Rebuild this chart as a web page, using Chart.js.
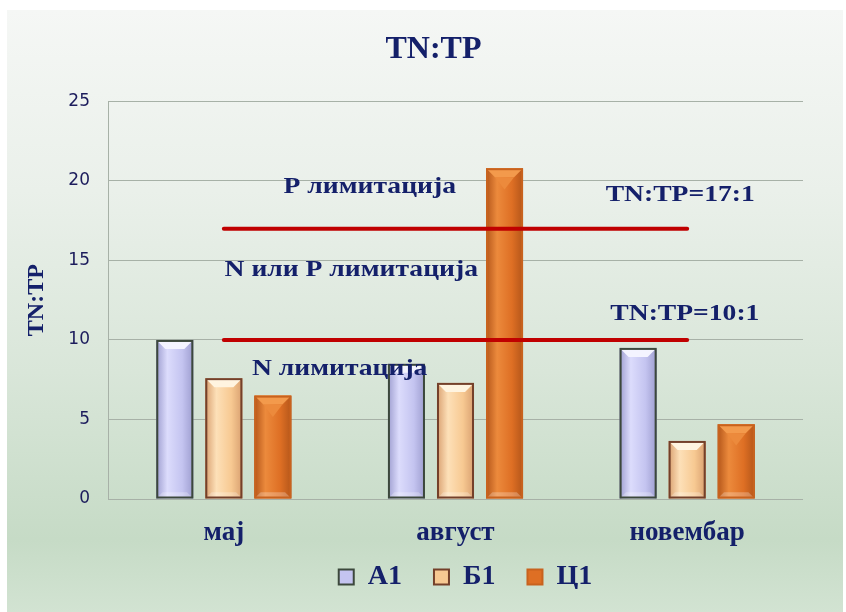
<!DOCTYPE html>
<html>
<head>
<meta charset="utf-8">
<script src="https://cdn.jsdelivr.net/npm/chart.js@4.4.1/dist/chart.umd.min.js"></script>
<style>
  html, body { margin: 0; padding: 0; background: #ffffff; }
  #wrap { position: relative; width: 846px; height: 612px; overflow: hidden; }
  #card {
    position: absolute; left: 7px; top: 10px; right: 3px; bottom: 0;
    background: linear-gradient(to bottom, #f5f7f5 0%, #eaf0ea 30%, #d9e6d9 60%, #c6dbc6 88%, #d2e3d2 100%);
  }
  #chart { position: absolute; left: 0; top: 0; }
</style>
</head>
<body>
<div id="wrap">
  <div id="card"></div>
  <canvas id="chart" width="846" height="612"></canvas>
</div>
<script>
// categories and series
const months = ['мај', 'август', 'новембар'];
const seriesNames = ['А1', 'Б1', 'Ц1'];
const a1Values = [10.0, 8.5, 9.5];
const b1Values = [7.6, 7.3, 3.65];
const c1Values = [6.5, 20.8, 4.7];
// TN:TP threshold lines
const limit17 = [17, 17, 17];
const limit10 = [10, 10, 10];
const yTicks = [0, 5, 10, 15, 20, 25];

// text notes on the plot (category index, value)
const noteTexts = ['P лимитација', 'TN:TP=17:1', 'N или P лимитација', 'TN:TP=10:1', 'N лимитација'];
const noteCats = [0.63, 1.97, 0.55, 1.99, 0.5];
const noteVals = [19.6, 19.1, 14.4, 11.6, 8.2];

const navy = '#14206a';
const serif = '"Liberation Serif", "Times New Roman", serif';

// per-series look: base, light, dark, top bevel, border
const looks = [
  { base: '#c4c4f0', light: '#dcdcfc', dark: '#9e9ed0', top: '#f4f4ff', border: '#3c483c' },
  { base: '#f7c992', light: '#fde0b8', dark: '#d9a070', top: '#fff4e0', border: '#74402a' },
  { base: '#de6f24', light: '#ec8a3c', dark: '#b4561a', top: '#f39a4c', border: '#c8621e' }
];

// gives the plain bars a shaded, bevelled face
const bevelBars = {
  id: 'bevelBars',
  afterDatasetDraw(chart, args) {
    const meta = args.meta;
    if (meta.type !== 'bar') return;
    const look = looks[args.index];
    const ctx = chart.ctx;
    ctx.save();
    meta.data.forEach(bar => {
      const w = bar.width;
      const l = bar.x - w / 2, r = bar.x + w / 2;
      const t = Math.min(bar.y, bar.base), b = Math.max(bar.y, bar.base);
      const g = ctx.createLinearGradient(l, 0, r, 0);
      g.addColorStop(0, look.dark);
      g.addColorStop(0.3, look.light);
      g.addColorStop(0.7, look.base);
      g.addColorStop(1, look.dark);
      ctx.fillStyle = g;
      ctx.fillRect(l, t, w, b - t);
      const bv = Math.min(9, (b - t) / 3);
      // top bevel
      ctx.fillStyle = look.top;
      ctx.beginPath();
      ctx.moveTo(l, t); ctx.lineTo(r, t);
      ctx.lineTo(r - bv, t + bv); ctx.lineTo(l + bv, t + bv);
      ctx.closePath(); ctx.fill();
      if (args.index === 2) {
        ctx.fillStyle = look.light;
        ctx.beginPath();
        ctx.moveTo(l + bv, t + bv); ctx.lineTo(r - bv, t + bv);
        ctx.lineTo(bar.x, t + bv + w / 3);
        ctx.closePath(); ctx.fill();
      }
      // bottom bevel
      ctx.fillStyle = 'rgba(255,255,255,0.25)';
      ctx.beginPath();
      ctx.moveTo(l, b); ctx.lineTo(r, b);
      ctx.lineTo(r - bv * 0.7, b - bv * 0.7); ctx.lineTo(l + bv * 0.7, b - bv * 0.7);
      ctx.closePath(); ctx.fill();
      ctx.strokeStyle = look.border;
      ctx.lineWidth = 2;
      ctx.strokeRect(l + 1, t + 1, w - 2, b - t - 2);
    });
    ctx.restore();
  }
};

// writes the limitation notes, placed through the scales
const notes = {
  id: 'notes',
  afterDatasetsDraw(chart) {
    const ctx = chart.ctx;
    const xs = chart.scales.x, ys = chart.scales.y;
    const step = xs.getPixelForValue(1) - xs.getPixelForValue(0);
    ctx.save();
    ctx.font = 'bold 23px ' + serif;
    ctx.fillStyle = navy;
    ctx.textAlign = 'center';
    ctx.textBaseline = 'middle';
    noteTexts.forEach((txt, i) => {
      const px = xs.getPixelForValue(0) + noteCats[i] * step;
      const py = ys.getPixelForValue(noteVals[i]);
      ctx.save();
      ctx.translate(px, py);
      ctx.scale(1.2, 1);
      ctx.fillText(txt, 0, 0);
      ctx.restore();
    });
    ctx.restore();
  }
};

// legend sits a bit higher/right and title a bit left than chart.js would put them
const nudge = {
  id: 'nudge',
  afterLayout(chart) {
    chart.legend.top -= 20;
    chart.legend.bottom -= 20;
    chart.legend.left += 10;
    chart.legend.right += 10;
    chart.titleBlock.left -= 22;
    chart.titleBlock.right -= 22;
  }
};

const barSets = [a1Values, b1Values, c1Values].map((vals, i) => ({
  type: 'bar',
  label: seriesNames[i],
  data: vals,
  backgroundColor: looks[i].base,
  borderColor: looks[i].border,
  borderWidth: 2,
  categoryPercentage: 0.635,
  barPercentage: 0.755,
  order: 2
}));

const lineSets = [limit17, limit10].map(vals => ({
  type: 'line',
  label: 'limit',
  data: vals,
  borderColor: '#c00000',
  borderWidth: 4,
  borderCapStyle: 'round',
  pointRadius: 0,
  fill: false,
  order: 1
}));

new Chart(document.getElementById('chart'), {
  type: 'bar',
  data: { labels: months, datasets: barSets.concat(lineSets) },
  options: {
    responsive: false,
    animation: false,
    layout: { padding: { left: 0, right: 43, top: 0, bottom: 3 } },
    plugins: {
      title: {
        display: true,
        fullSize: false,
        text: 'TN:TP',
        color: navy,
        font: { family: serif, size: 32, weight: 'bold' },
        padding: { top: 31, bottom: 32 }
      },
      legend: {
        position: 'bottom',
        fullSize: false,
        maxHeight: 58,
        labels: {
          filter: item => item.text !== 'limit',
          color: navy,
          font: { family: serif, size: 28, weight: 'bold' },
          boxWidth: 15,
          boxHeight: 15,
          padding: 32
        }
      },
      tooltip: { enabled: false }
    },
    scales: {
      x: {
        grid: { display: false, drawTicks: false },
        border: { display: false },
        ticks: { color: navy, font: { family: serif, size: 27, weight: 'bold' }, padding: 18 },
        afterFit(scale) { scale.height = 52; }
      },
      y: {
        min: 0,
        max: 25,
        afterBuildTicks(scale) { scale.ticks = yTicks.map(v => ({ value: v })); },
        grid: { color: '#a7b1a7', lineWidth: 1, drawTicks: false },
        border: { display: true, color: '#a7b1a7' },
        ticks: { color: '#1c1c5c', font: { family: '"DejaVu Sans", sans-serif', size: 17 }, padding: 18 },
        title: {
          display: true,
          text: 'TN:TP',
          color: navy,
          font: { family: serif, size: 24, weight: 'bold' },
          padding: { top: 22, bottom: 0 }
        },
        afterFit(scale) { scale.width = 108; }
      }
    }
  },
  plugins: [bevelBars, notes, nudge]
});
</script>
</body>
</html>
